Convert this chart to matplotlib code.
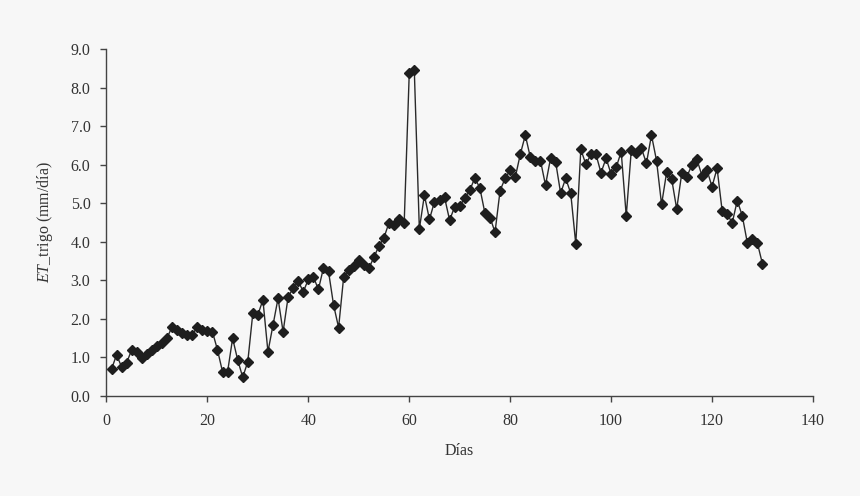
import matplotlib
matplotlib.use("Agg")
import matplotlib.pyplot as plt

days = list(range(1, 131))
et_trigo = [
    0.69, 1.06, 0.75, 0.86, 1.19, 1.14, 0.99, 1.08, 1.19, 1.29,
    1.37, 1.50, 1.79, 1.71, 1.62, 1.58, 1.58, 1.79, 1.71, 1.69,
    1.66, 1.19, 0.62, 0.62, 1.49, 0.93, 0.48, 0.88, 2.14, 2.10,
    2.49, 1.14, 1.84, 2.53, 1.66, 2.57, 2.79, 2.98, 2.70, 3.02,
    3.09, 2.76, 3.32, 3.23, 2.36, 1.77, 3.08, 3.27, 3.37, 3.53,
    3.40, 3.31, 3.60, 3.89, 4.11, 4.50, 4.44, 4.58, 4.50, 8.38,
    8.46, 4.33, 5.21, 4.58, 5.04, 5.08, 5.15, 4.56, 4.91, 4.93,
    5.13, 5.34, 5.66, 5.39, 4.74, 4.63, 4.25, 5.33, 5.65, 5.86,
    5.67, 6.27, 6.77, 6.19, 6.11, 6.11, 5.47, 6.17, 6.08, 5.26,
    5.65, 5.26, 3.94, 6.40, 6.01, 6.27, 6.27, 5.79, 6.17, 5.76,
    5.93, 6.34, 4.67, 6.38, 6.31, 6.43, 6.04, 6.77, 6.11, 4.97,
    5.80, 5.63, 4.85, 5.78, 5.69, 5.99, 6.14, 5.72, 5.86, 5.43,
    5.91, 4.81, 4.72, 4.49, 5.07, 4.67, 3.97, 4.06, 3.96, 3.42,
]
x_ticks = [0, 20, 40, 60, 80, 100, 120, 140]
y_ticks = [0.0, 1.0, 2.0, 3.0, 4.0, 5.0, 6.0, 7.0, 8.0, 9.0]

plt.rcParams['font.family'] = ['Liberation Serif', 'DejaVu Serif']
plt.rcParams['mathtext.fontset'] = 'custom'
plt.rcParams['mathtext.it'] = 'Liberation Serif:italic'
plt.rcParams['mathtext.rm'] = 'Liberation Serif'

bg = '#f7f7f7'
fig = plt.figure(figsize=(8.6, 4.96), dpi=100, facecolor=bg)
ax = fig.add_axes([0.1238, 0.2022, 0.8215, 0.6984], facecolor=bg)

ax.plot(days, et_trigo, color='#2a2a2a', lw=1.0, marker='D', markersize=5.4,
        markerfacecolor='#1e1e1e', markeredgecolor='#1e1e1e', clip_on=False)

ax.set_xlim(0, 140)
ax.set_ylim(0, 9)
ax.set_xticks(x_ticks)
ax.set_yticks(y_ticks)
ax.set_yticklabels([f"{v:.1f}" for v in y_ticks])

for s in ['top', 'right']:
    ax.spines[s].set_visible(False)
for s in ['left', 'bottom']:
    ax.spines[s].set_color('#444444')
    ax.spines[s].set_linewidth(1.0)

ax.tick_params(axis='both', direction='out', length=4.5, width=1.0,
               color='#444444', labelsize=11.5, labelcolor='#333333')
ax.tick_params(axis='y', pad=7)
ax.tick_params(axis='x', pad=8)

ax.set_xlabel('Días', fontsize=11.5, color='#333333', labelpad=10)
ax.set_ylabel(r'$ET$_trigo (mm/día)', fontsize=11.5, color='#333333', labelpad=11)

fig.savefig('out.png', dpi=100, facecolor=bg)
